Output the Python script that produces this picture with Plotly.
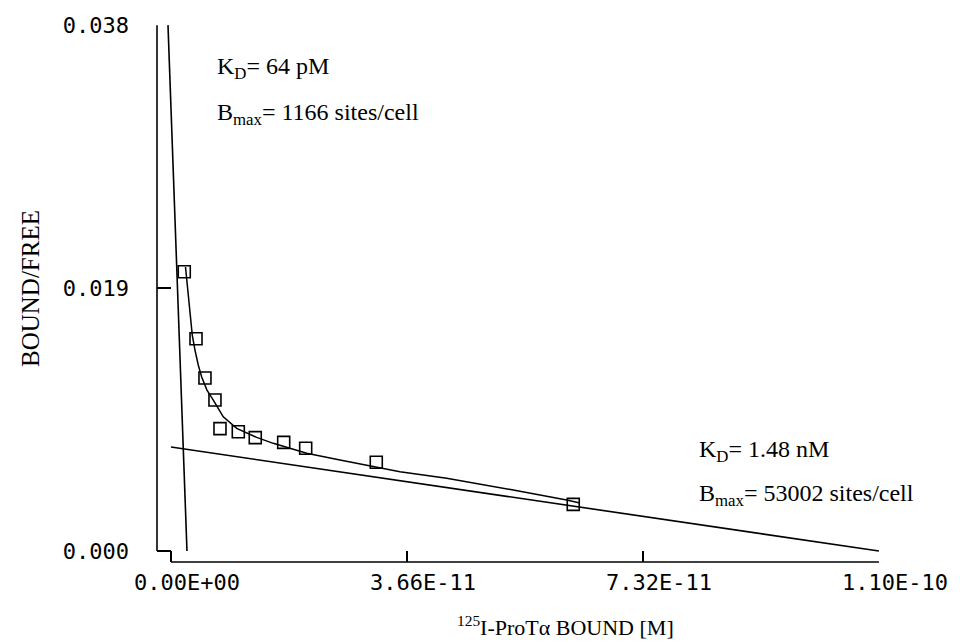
import plotly.graph_objects as go

# ---- data (Scatchard plot) ----
bound_pts = [2.06e-12, 3.88e-12, 5.27e-12, 6.82e-12, 7.60e-12, 1.044e-11,
             1.307e-11, 1.748e-11, 2.089e-11, 3.184e-11, 6.239e-11]
bf_pts = [0.02018, 0.01534, 0.01250, 0.01091, 0.00884, 0.00862,
          0.00819, 0.00785, 0.00742, 0.00641, 0.00337]

# fitted two-site curve
curve_x = [2.25e-12, 3.30e-12, 3.72e-12, 4.23e-12, 4.76e-12, 5.58e-12, 6.56e-12,
           8.11e-12, 1.019e-11, 1.329e-11, 1.586e-11, 2.104e-11, 2.621e-11,
           3.137e-11, 3.551e-11, 4.276e-11, 5.308e-11, 6.137e-11, 6.343e-11]
curve_y = [0.02052, 0.01560, 0.01452, 0.01344, 0.01257, 0.01163, 0.01091,
           0.00970, 0.00886, 0.00821, 0.00778, 0.00706, 0.00657,
           0.00609, 0.00573, 0.00525, 0.00441, 0.00368, 0.00347]

# high-affinity site line
high_x = [-4.65e-13, 2.48e-12]
high_y = [0.038, 0.0]
# low-affinity site line
low_x = [0.0, 1.098e-10]
low_y = [0.00751, 0.0]

x_tickvals = [0.0, 3.66e-11, 7.32e-11, 1.098e-10]
x_ticktext = ["0.00E+00", "3.66E-11", "7.32E-11", "1.10E-10"]
y_tickvals = [0.0, 0.019, 0.038]
y_ticktext = ["0.000", "0.019", "0.038"]

X_MIN, X_MAX = -2.17e-12, 1.0981e-10
Y_MIN, Y_MAX = -0.000795, 0.03801

serif = "Liberation Serif"
mono = "DejaVu Sans Mono"

# layout geometry (pixels)
L, T, R, B = 157, 25, 81, 81
PW, PH = 960 - L - R, 643 - T - B


def px(xp):
    return (xp - L) / PW


def py(yp):
    return (643 - B - yp) / PH


fig = go.Figure()
line_style = dict(color="black", width=1.6)
fig.add_trace(go.Scatter(x=high_x, y=high_y, mode="lines", line=line_style, showlegend=False))
fig.add_trace(go.Scatter(x=low_x, y=low_y, mode="lines", line=line_style, showlegend=False))
fig.add_trace(go.Scatter(x=curve_x, y=curve_y, mode="lines", line=dict(color="black", width=1.5),
                         showlegend=False))
fig.add_trace(go.Scatter(x=bound_pts, y=bf_pts, mode="markers",
                         marker=dict(symbol="square-open", size=12, color="black",
                                     line=dict(color="black", width=1.6)),
                         showlegend=False))

# axis lines (offset spines as in the reference), paper-referenced so they are not clipped
y0_paper = (0 - Y_MIN) / (Y_MAX - Y_MIN)
y1_paper = (y_tickvals[-1] - Y_MIN) / (Y_MAX - Y_MIN)
x0_paper = (0 - X_MIN) / (X_MAX - X_MIN)
x1_paper = (x_tickvals[-1] - X_MIN) / (X_MAX - X_MIN)
fig.add_shape(type="line", xref="paper", yref="paper", x0=0, x1=0, y0=y0_paper, y1=y1_paper,
              line=dict(color="black", width=1.6))
fig.add_shape(type="line", xref="paper", yref="paper", x0=x0_paper, x1=x1_paper, y0=0, y1=0,
              line=dict(color="black", width=1.6))

ann_font = dict(family=serif, size=24, color="black")
fig.add_annotation(text="K<sub>D</sub>= 64 pM", xref="paper", yref="paper",
                   x=px(215), y=py(68), xanchor="left", yanchor="middle",
                   showarrow=False, font=ann_font)
fig.add_annotation(text="B<sub>max</sub>= 1166 sites/cell", xref="paper", yref="paper",
                   x=px(215), y=py(114), xanchor="left", yanchor="middle",
                   showarrow=False, font=ann_font)
fig.add_annotation(text="K<sub>D</sub>= 1.48 nM", xref="paper", yref="paper",
                   x=px(697), y=py(451), xanchor="left", yanchor="middle",
                   showarrow=False, font=ann_font)
fig.add_annotation(text="B<sub>max</sub>= 53002 sites/cell", xref="paper", yref="paper",
                   x=px(697), y=py(495), xanchor="left", yanchor="middle",
                   showarrow=False, font=ann_font)

# axis titles
fig.add_annotation(text="BOUND/FREE", xref="paper", yref="paper",
                   x=px(30), y=py(288), textangle=-90,
                   xanchor="center", yanchor="middle", showarrow=False,
                   font=dict(family=serif, size=25, color="black"))
fig.add_annotation(text="<sup>125</sup>I-ProTα BOUND [M]", xref="paper", yref="paper",
                   x=px(565), y=py(626),
                   xanchor="center", yanchor="middle", showarrow=False,
                   font=dict(family=serif, size=22, color="black"))

fig.update_xaxes(range=[X_MIN, X_MAX], tickvals=x_tickvals, ticktext=x_ticktext,
                 ticks="inside", ticklen=11, tickwidth=1.5, tickcolor="black",
                 showgrid=False, zeroline=False, showline=False,
                 tickfont=dict(family=mono, size=22, color="black"),
                 ticklabelshift=16, ticklabelstandoff=5)
fig.update_yaxes(range=[Y_MIN, Y_MAX], tickvals=y_tickvals, ticktext=y_ticktext,
                 ticks="inside", ticklen=14, tickwidth=1.5, tickcolor="black",
                 showgrid=False, zeroline=False, showline=False,
                 tickfont=dict(family=mono, size=22, color="black"),
                 ticklabelstandoff=27)

fig.update_layout(width=960, height=643, margin=dict(l=L, r=R, t=T, b=B),
                  plot_bgcolor="white", paper_bgcolor="white")

fig.write_html("out.html", config={"displayModeBar": False},
               post_script="document.body.style.margin='0';document.body.style.overflow='hidden';")
